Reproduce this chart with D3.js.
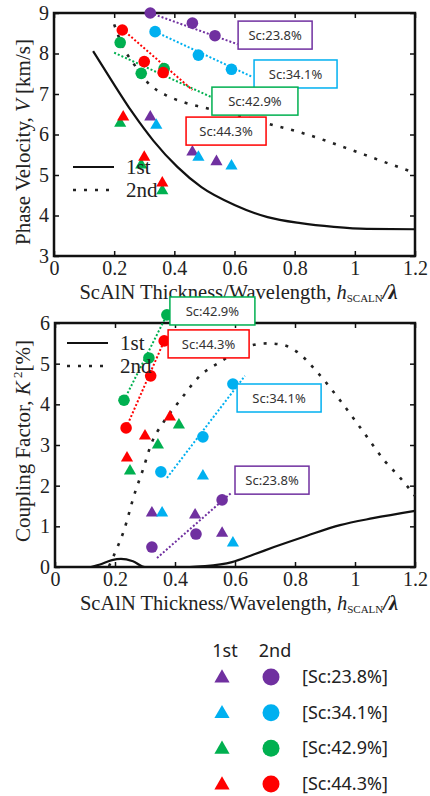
<!DOCTYPE html>
<html>
<head>
<meta charset="utf-8">
<script src="https://cdn.jsdelivr.net/npm/d3@7"></script>
<style>
  body { margin: 0; background: #fff; overflow: hidden; }
</style>
</head>
<body>
<script>
// ---- data ----
const seriesNames = ["Sc:23.8%", "Sc:34.1%", "Sc:42.9%", "Sc:44.3%"];
const seriesColors = ["#7030a0", "#00b0f0", "#00b050", "#ff0000"];
const xTicks = [0, 0.2, 0.4, 0.6, 0.8, 1, 1.2];
const velTicks = [3, 4, 5, 6, 7, 8, 9];
const k2Ticks = [0, 1, 2, 3, 4, 5, 6];

// phase velocity, simulated curves
const velSim1st = [[0.13, 8.06], [0.19, 7.35], [0.26, 6.55], [0.33, 5.85], [0.41, 5.2], [0.49, 4.7],
  [0.6, 4.26], [0.71, 3.96], [0.82, 3.81], [0.93, 3.72], [1.04, 3.67], [1.2, 3.66]];
const velSim2nd = [[0.2, 8.72], [0.23, 8.15], [0.26, 7.8], [0.32, 7.22], [0.37, 6.98], [0.43, 6.8],
  [0.49, 6.68], [0.6, 6.5], [0.73, 6.23], [0.82, 6.05], [0.97, 5.67], [1.08, 5.37], [1.2, 5.05]];
// phase velocity, measured (one array per Sc content)
const vel1st = [
  [[0.32, 6.43], [0.46, 5.57], [0.54, 5.33]],
  [[0.34, 6.23], [0.48, 5.44], [0.59, 5.22]],
  [[0.22, 6.28], [0.29, 5.25], [0.36, 4.61]],
  [[0.23, 6.43], [0.30, 5.44], [0.36, 4.80]]
];
const vel2nd = [
  [[0.32, 9.0], [0.46, 8.75], [0.535, 8.44]],
  [[0.336, 8.54], [0.48, 7.96], [0.59, 7.61]],
  [[0.22, 8.27], [0.29, 7.51], [0.366, 7.63]],
  [[0.227, 8.58], [0.30, 7.80], [0.363, 7.53]]
];
const velTrend = [
  [[0.32, 9.0], [0.61, 8.23]],
  [[0.336, 8.54], [0.66, 7.42]],
  [[0.2, 8.02], [0.53, 6.9]],
  [[0.227, 8.6], [0.46, 7.1]]
];

// coupling factor, simulated curves
const k2Sim1st = [[0.12, 0], [0.15, 0.06], [0.19, 0.17], [0.22, 0.2], [0.26, 0.14], [0.3, 0],
  [0.45, 0], [0.5, 0.02], [0.59, 0.12], [0.66, 0.3], [0.73, 0.49], [0.84, 0.77], [0.95, 1.03],
  [1.06, 1.2], [1.2, 1.38]];
const k2Sim2nd = [[0.18, 0.02], [0.194, 0.25], [0.228, 0.86], [0.267, 1.84], [0.293, 2.39],
  [0.322, 3.05], [0.36, 3.54], [0.417, 4.1], [0.483, 4.7], [0.55, 5.04], [0.627, 5.38],
  [0.707, 5.5], [0.76, 5.46], [0.807, 5.29], [0.873, 4.8], [0.95, 4.1], [1.04, 3.2],
  [1.1, 2.6], [1.15, 2.2], [1.2, 1.75]];
const k21st = [
  [[0.323, 1.33], [0.467, 1.28], [0.557, 0.83]],
  [[0.357, 1.33], [0.493, 2.24], [0.593, 0.59]],
  [[0.25, 2.36], [0.343, 3.0], [0.413, 3.49]],
  [[0.24, 2.68], [0.30, 3.22], [0.383, 3.69]]
];
const k22nd = [
  [[0.323, 0.49], [0.47, 0.81], [0.557, 1.65]],
  [[0.353, 2.34], [0.493, 3.2], [0.593, 4.5]],
  [[0.23, 4.1], [0.313, 5.14], [0.373, 6.2]],
  [[0.237, 3.42], [0.319, 4.7], [0.364, 5.56]]
];
const k2Trend = [
  [[0.34, 0.22], [0.59, 1.84]],
  [[0.373, 2.19], [0.633, 4.7]],
  [[0.23, 4.1], [0.373, 6.2]],
  [[0.237, 3.42], [0.364, 5.56]]
];

// ---- layout ----
const serif = '"Liberation Serif", "DejaVu Serif", serif';
const sans = '"Noto Sans", "Open Sans", sans-serif';

const svg = d3.select("body").append("svg")
  .attr("width", 430)
  .attr("height", 796);

function drawPanel(p) {
  const x = d3.scaleLinear().domain([0, 1.2]).range([p.left, p.right]);
  const y = d3.scaleLinear().domain(p.yDomain).range([p.bottom, p.top]);
  const g = svg.append("g");

  // ticks on all four sides, pointing inward
  const axes = [
    {ax: d3.axisBottom(x).tickValues(xTicks).tickFormat(d3.format("")), t: `translate(0,${p.bottom})`, labels: true},
    {ax: d3.axisTop(x).tickValues(xTicks), t: `translate(0,${p.top})`, labels: false},
    {ax: d3.axisLeft(y).tickValues(p.yTicks).tickFormat(d3.format("d")), t: `translate(${p.left},0)`, labels: true},
    {ax: d3.axisRight(y).tickValues(p.yTicks), t: `translate(${p.right},0)`, labels: false}
  ];
  axes.forEach(a => {
    const ag = g.append("g")
      .attr("transform", a.t)
      .call(a.ax.tickSize(-5).tickPadding(5));
    ag.select(".domain").remove();
    ag.selectAll(".tick line").attr("stroke", "#111").attr("stroke-width", 1.5);
    ag.selectAll("text")
      .style("font-family", serif)
      .style("font-size", "20px")
      .attr("fill", "#222");
    if (!a.labels) ag.selectAll("text").remove();
  });

  // frame
  g.append("rect")
    .attr("x", p.left).attr("y", p.top)
    .attr("width", p.right - p.left).attr("height", p.bottom - p.top)
    .attr("fill", "none").attr("stroke", "#111").attr("stroke-width", 2.5);

  const line = d3.line().x(d => x(d[0])).y(d => y(d[1])).curve(d3.curveMonotoneX);
  const straight = d3.line().x(d => x(d[0])).y(d => y(d[1]));

  g.append("path").attr("d", line(p.sim1st))
    .attr("fill", "none").attr("stroke", "#111").attr("stroke-width", 2.2);
  g.append("path").attr("d", line(p.sim2nd))
    .attr("fill", "none").attr("stroke", "#222").attr("stroke-width", 2.6)
    .attr("stroke-dasharray", "3,8");

  // trend lines
  p.trend.forEach((t, i) => {
    g.append("path").attr("d", straight(t))
      .attr("fill", "none").attr("stroke", seriesColors[i]).attr("stroke-width", 2)
      .attr("stroke-dasharray", "2,2");
  });

  // measured points
  const tri = d3.symbol(d3.symbolTriangle, 64);
  p.first.forEach((pts, i) => {
    g.selectAll(null).data(pts).join("path")
      .attr("d", tri)
      .attr("transform", d => `translate(${x(d[0])},${y(d[1])})`)
      .attr("fill", seriesColors[i]);
  });
  p.second.forEach((pts, i) => {
    g.selectAll(null).data(pts).join("circle")
      .attr("cx", d => x(d[0])).attr("cy", d => y(d[1])).attr("r", 5.8)
      .attr("fill", seriesColors[i]);
  });

  // inner legend
  const lg = g.append("g").attr("transform", `translate(${p.legend[0]},${p.legend[1]})`);
  lg.append("line").attr("x1", 0).attr("x2", 41).attr("y1", 0).attr("y2", 0)
    .attr("stroke", "#111").attr("stroke-width", 2.2);
  lg.append("line").attr("x1", 0).attr("x2", 41).attr("y1", 23).attr("y2", 23)
    .attr("stroke", "#222").attr("stroke-width", 2.6).attr("stroke-dasharray", "3,8");
  lg.append("text").attr("x", 53).attr("y", 7).text("1st")
    .style("font-family", serif).style("font-size", "21px").attr("fill", "#222");
  lg.append("text").attr("x", 53).attr("y", 30).text("2nd")
    .style("font-family", serif).style("font-size", "21px").attr("fill", "#222");

  // Sc labels (series order)
  p.boxes.forEach((b, i) => {
    const bx = x(b[0]), by = y(b[1]);
    g.append("rect").attr("x", bx).attr("y", by).attr("width", b[2]).attr("height", 28)
      .attr("fill", "#fff").attr("stroke", seriesColors[i]).attr("stroke-width", 1.5);
    g.append("text").attr("x", bx + b[2] / 2).attr("y", by + 19)
      .attr("text-anchor", "middle")
      .style("font-family", sans).style("font-size", "13px").attr("fill", "#333")
      .text(seriesNames[i]);
  });

  // x title
  const xt = g.append("text")
    .attr("x", (p.left + p.right) / 2 + 4).attr("y", p.bottom + 43)
    .attr("text-anchor", "middle")
    .style("font-family", serif).style("font-size", "20.5px").attr("fill", "#222");
  xt.append("tspan").text("ScAlN Thickness/Wavelength, ");
  xt.append("tspan").style("font-style", "italic").text("h");
  xt.append("tspan").style("font-size", "11px").attr("dy", 3).text("SCALN");
  xt.append("tspan").attr("dy", -3).style("font-style", "italic").style("font-weight", "bold").text("/λ");

  // y title
  const yt = g.append("text")
    .attr("transform", `translate(30,${p.yTitleY}) rotate(-90)`)
    .attr("text-anchor", "middle")
    .style("font-family", serif).style("font-size", "21px").attr("fill", "#222");
  p.yTitle(yt);
}

drawPanel({
  left: 54, right: 415, top: 13, bottom: 256,
  yDomain: [3, 9], yTicks: velTicks,
  sim1st: velSim1st, sim2nd: velSim2nd,
  first: vel1st, second: vel2nd, trend: velTrend,
  legend: [73, 167],
  boxes: [[0.612, 8.8, 74], [0.665, 7.84, 83], [0.525, 7.17, 86], [0.439, 6.43, 80]],
  yTitleY: 142,
  yTitle: t => {
    t.append("tspan").text("Phase Velocity, ");
    t.append("tspan").style("font-style", "italic").text("V");
    t.append("tspan").text(" [km/s]");
  }
});

drawPanel({
  left: 55, right: 415, top: 323, bottom: 567,
  yDomain: [0, 6], yTicks: k2Ticks,
  sim1st: k2Sim1st, sim2nd: k2Sim2nd,
  first: k21st, second: k22nd, trend: k2Trend,
  legend: [67, 343],
  boxes: [[0.6, 2.48, 74], [0.607, 4.5, 84], [0.383, 6.64, 85], [0.377, 5.83, 81]],
  yTitleY: 441,
  yTitle: t => {
    t.append("tspan").text("Coupling Factor, ");
    t.append("tspan").style("font-style", "italic").text("K");
    t.append("tspan").attr("dy", -8).style("font-size", "13px").text(" 2");
    t.append("tspan").attr("dy", 8).text("[%]");
  }
});

// ---- bottom legend ----
const leg = svg.append("g");
leg.append("text").attr("x", 225).attr("y", 657).attr("text-anchor", "middle").text("1st")
  .style("font-family", sans).style("font-size", "18px").attr("fill", "#222");
leg.append("text").attr("x", 275).attr("y", 657).attr("text-anchor", "middle").text("2nd")
  .style("font-family", sans).style("font-size", "18px").attr("fill", "#222");
const rowY = d3.scalePoint().domain(seriesNames).range([677, 784]);
const bigTri = d3.symbol(d3.symbolTriangle, 100);
seriesNames.forEach((s, i) => {
  const cy = rowY(s);
  leg.append("path").attr("d", bigTri).attr("transform", `translate(222,${cy + 1})`)
    .attr("fill", seriesColors[i]);
  leg.append("circle").attr("cx", 271).attr("cy", cy).attr("r", 8.5).attr("fill", seriesColors[i]);
  leg.append("text").attr("x", 302).attr("y", cy + 6).text(`[${s}]`)
    .style("font-family", sans).style("font-size", "18px").attr("fill", "#222");
});
</script>
</body>
</html>
